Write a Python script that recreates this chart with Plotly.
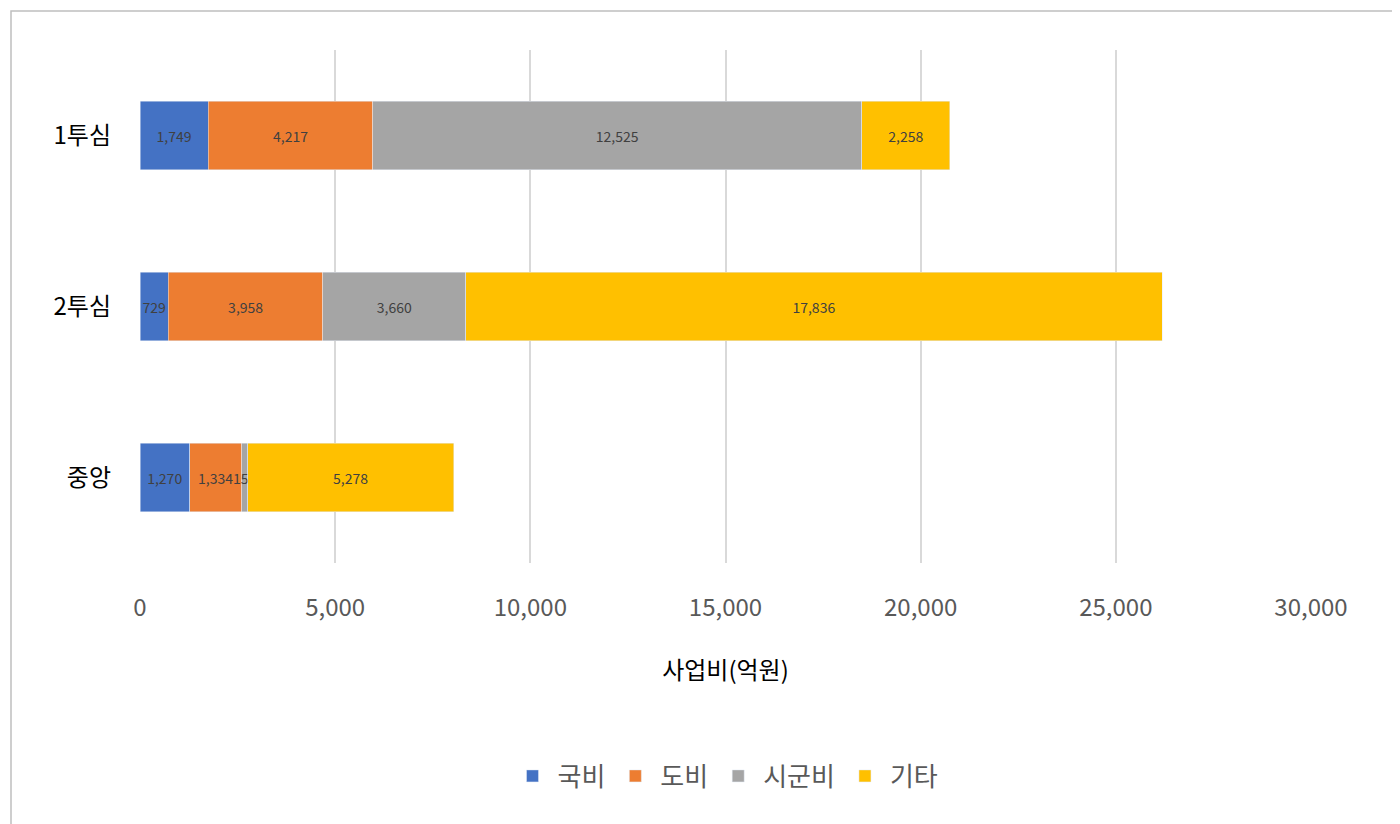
import plotly.graph_objects as go

categories = ["1투심", "2투심", "중앙"]
series_names = ["국비", "도비", "시군비", "기타"]
gukbi = [1749, 729, 1270]
dobi = [4217, 3958, 1334]
sigunbi = [12525, 3660, 153]
gita = [2258, 17836, 5278]
colors = ["#4472C4", "#ED7D31", "#A5A5A5", "#FFC000"]

fig = go.Figure()
for name, vals, c in zip(series_names, [gukbi, dobi, sigunbi, gita], colors):
    fig.add_trace(go.Bar(
        y=categories, x=vals, name=name, orientation="h", marker_color=c,
        text=[f"{v:,}" for v in vals], textposition="inside", insidetextanchor="middle",
        textangle=0,
        textfont=dict(size=14, color="#404040", family="Noto Sans CJK KR"),
        cliponaxis=False,
    ))

W, H = 1400, 824
l, r, t, b = 132, 97, 42, 269
pw, ph = W - l - r, H - t - b
fig.update_layout(
    width=W, height=H, barmode="stack", bargap=0.6,
    margin=dict(l=l, r=r, t=t, b=b, autoexpand=False),
    plot_bgcolor="white", paper_bgcolor="white",
    font=dict(family="Noto Sans CJK KR", color="#595959"),
    uniformtext=dict(minsize=14, mode="show"),
    xaxis=dict(range=[0, 30000], dtick=5000, tickformat=",", showgrid=True,
               gridcolor="#D9D9D9", gridwidth=1.5, zeroline=False, automargin=False,
               tickfont=dict(size=24, color="#595959"), ticklen=0, ticks="",
               ticklabelstandoff=28,
               title=dict(text="사업비(억원)", font=dict(size=24, color="#000000"), standoff=40)),
    yaxis=dict(autorange="reversed", tickfont=dict(size=24, color="#000000"),
               automargin=False, ticklabelstandoff=28),
    legend=dict(orientation="h", x=0.5, xanchor="center", y=-(768 - 555) / ph, yanchor="middle",
                font=dict(size=26, color="#595959"), itemwidth=40, traceorder="normal"),
    shapes=[dict(type="rect", xref="paper", yref="paper",
                 x0=-(l - 3) / pw, x1=1 + (r - 4) / pw,
                 y0=-(b - 4) / ph, y1=1 + (t - 3) / ph,
                 line=dict(color="#BFBFBF", width=1.5))],
)
fig.write_html("out.html")
